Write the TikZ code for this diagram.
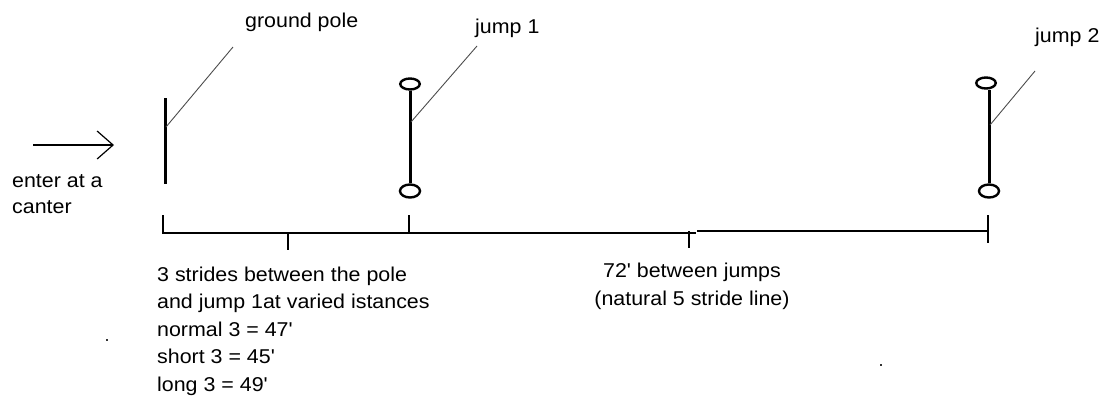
\documentclass[tikz,border=0pt]{standalone}
\usepackage{fontspec}
\setmainfont{Liberation Sans}
\newfontfamily\lblfont[FakeStretch=1.07,Ligatures=TeXOff]{Liberation Sans}
\usetikzlibrary{arrows.meta,shapes.geometric}
\begin{document}
\begin{tikzpicture}[x=1pt,y=-1pt,
  lbl/.style={font=\lblfont\fontsize{20}{27.5}\selectfont, inner sep=0pt, align=left},
  polebar/.style={line width=3pt},
  ring/.style={draw, ellipse, line width=2.4pt, minimum width=19.5pt, minimum height=11pt, inner sep=0pt},
  lowring/.style={ring, minimum width=20pt, minimum height=13pt},
  leader/.style={line width=0.9pt, black!70},
  measure/.style={line width=1.4pt},
  stray/.style={fill=black!80}
]
\useasboundingbox (0,0) rectangle (1101,397);

% entry arrow
\coordinate (arrS) at (33,145);
\coordinate (arrE) at (114,145);
\draw[line width=1.2pt, -{Straight Barb[length=16pt,width=28pt,line width=1.2pt]}] (arrS) -- (arrE);
\node[lbl, anchor=base west, font=\lblfont\fontsize{20}{26}\selectfont] (enter) at (12,213) {enter at a\\canter};

% ground pole
\coordinate (gpT) at (165,98);
\coordinate (gpB) at (165,184);
\draw[polebar] (gpT) -- (gpB);
\coordinate (gpL) at (166,127);
\coordinate (gpLend) at (233,47);
\draw[leader] (gpL) -- (gpLend);
\node[lbl, anchor=base west] (gpLabel) at (245,27) {ground pole};

% jump 1
\node[ring] (j1top) at (410,84) {};
\node[lowring] (j1bot) at (410,191) {};
\draw[polebar] (j1top.south) -- (j1bot.north);
\coordinate (j1L) at (411,122);
\coordinate (j1Lend) at (477,46);
\draw[leader] (j1L) -- (j1Lend);
\node[lbl, anchor=base west] (j1Label) at (475,33) {jump 1};

% jump 2
\node[ring] (j2top) at (986,83) {};
\node[lowring] (j2bot) at (989,191) {};
\draw[polebar] (989,90) -- (j2bot.north);
\coordinate (j2L) at (990,125);
\coordinate (j2Lend) at (1035,71);
\draw[leader] (j2L) -- (j2Lend);
\node[lbl, anchor=base west] (j2Label) at (1035,42) {jump 2};

% measuring line
\coordinate (mA) at (163,233);
\coordinate (mAtop) at (163,215);
\coordinate (mB) at (409,233);
\coordinate (mBtop) at (409,215);
\coordinate (mMid1) at (288,233);
\coordinate (mMid1b) at (288,250);
\coordinate (mStep) at (696,233);
\coordinate (mStep2) at (697,231);
\coordinate (mMid2t) at (689,231);
\coordinate (mMid2b) at (689,248);
\coordinate (mC) at (988,231);
\coordinate (mCtop) at (988,215);
\coordinate (mCbot) at (988,243);
\draw[measure] (mAtop) -- (mA) -- (mStep);
\draw[measure] (mStep2) -- (mC);
\draw[measure] (mBtop) -- (mB);
\draw[measure] (mMid1) -- (mMid1b);
\draw[measure] (mMid2t) -- (mMid2b);
\draw[measure] (mCtop) -- (mCbot);

% texts below (anchor base = baseline of last line)
\node[lbl, anchor=base west] (strides) at (157,391) {3 strides between the pole\\and jump 1at varied istances\\normal 3 = 47'\\short 3 = 45'\\long 3 = 49'};
\node[lbl, align=center, anchor=base, font=\lblfont\fontsize{20}{28}\selectfont] (between) at (692,305) {72' between jumps\\(natural 5 stride line)};

% stray dots
\fill[stray] (106,339) rectangle (108,341);
\fill[stray] (880,364) rectangle (882,366);
\end{tikzpicture}
\end{document}
